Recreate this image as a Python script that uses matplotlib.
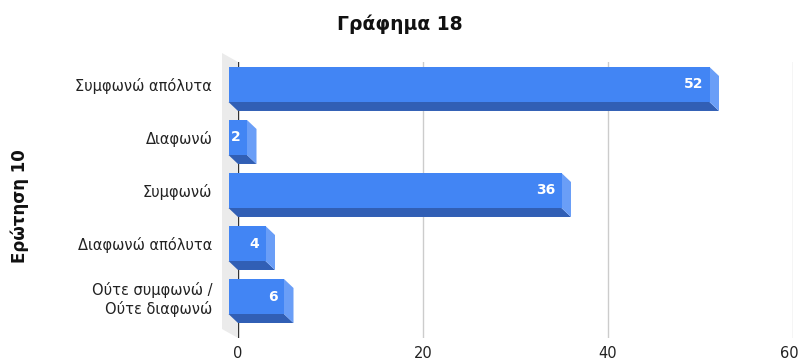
import matplotlib
matplotlib.use("Agg")
import matplotlib.pyplot as plt
from matplotlib.patches import Polygon
from matplotlib.transforms import ScaledTranslation

plt.rcParams['font.family'] = ['DejaVu Sans']

categories = ["Συμφωνώ απόλυτα", "Διαφωνώ", "Συμφωνώ", "Διαφωνώ απόλυτα",
              "Ούτε συμφωνώ /\nΟύτε διαφωνώ"]
values = [52, 2, 36, 4, 6]
x_ticks = [0, 20, 40, 60]
title = "Γράφημα 18"
ylabel = "Ερώτηση 10"

FRONT = "#4285f4"
BOTTOM = "#315fb5"
SIDE = "#6a9ef7"
WALL = "#ebebeb"

W, H, DPI = 800, 361, 100
fig = plt.figure(figsize=(W / DPI, H / DPI), dpi=DPI)

left_px, right_px, top_px, bot_px = 238, 793, 62, 338
ax = fig.add_axes([left_px / W, (H - bot_px) / H,
                   (right_px - left_px) / W, (bot_px - top_px) / H])
ax.set_xlim(0, 60)
ax.set_ylim(4.613, -0.594)
for s in ax.spines.values():
    s.set_visible(False)

ax_w = right_px - left_px
ax_h = bot_px - top_px
pxu = ax_w / 60.0
pxc = ax_h / (4.613 + 0.594)

dx_px, dy_px = 9.5, 9.0
dxd = dx_px / pxu
dyd = dy_px / pxc

wx = -16.0 / ax_w
wy = 9.0 / ax_h
wall = Polygon([(0, 1), (wx, 1 + wy), (wx, wy), (0, 0)], closed=True,
               transform=ax.transAxes, facecolor=WALL, edgecolor='none',
               clip_on=False, zorder=0)
ax.add_patch(wall)

for t in x_ticks[1:]:
    ax.axvline(t, color="#cccccc", lw=1, zorder=1)
ax.axvline(0, color="#333333", lw=1, zorder=1)

h = 0.66
ypos = list(range(len(categories)))
for k, v in zip(ypos, values):
    yb_top = k - h / 2
    yb_bot = k + h / 2
    bottom = Polygon([(-dxd, yb_bot - dyd), (v - dxd, yb_bot - dyd),
                      (v, yb_bot), (0, yb_bot)], closed=True,
                     facecolor=BOTTOM, edgecolor='none', clip_on=False, zorder=2)
    ax.add_patch(bottom)
    side = Polygon([(v - dxd, yb_top - dyd), (v, yb_top), (v, yb_bot),
                    (v - dxd, yb_bot - dyd)], closed=True,
                   facecolor=SIDE, edgecolor='none', clip_on=False, zorder=2)
    ax.add_patch(side)

front_tr = ax.transData + ScaledTranslation(-dx_px / DPI, dy_px / DPI, fig.dpi_scale_trans)
bars = ax.barh(ypos, values, height=h, color=FRONT, zorder=3,
               transform=front_tr, clip_on=False)

label_tr = ax.transData + ScaledTranslation((-dx_px - 6) / DPI, dy_px / DPI, fig.dpi_scale_trans)
for k, v in zip(ypos, values):
    ax.text(v, k, str(v), transform=label_tr, ha='right', va='center',
            color='white', fontsize=10, fontweight='bold', zorder=4, clip_on=False)

ax.set_xticks(x_ticks)
ax.set_xticklabels([str(t) for t in x_ticks])
ax.tick_params(axis='x', length=0, pad=6, labelsize=10.5, labelcolor='#222222')
xlabs = ax.get_xticklabels()
xlabs[-1].set_horizontalalignment('right')
xlabs[-1].set_transform(xlabs[-1].get_transform() + ScaledTranslation(6 / DPI, 0, fig.dpi_scale_trans))
ax.set_yticks(ypos)
ax.set_yticklabels(categories)
ax.tick_params(axis='y', length=0, pad=18.5, labelsize=10.5, labelcolor='#222222')
for lab in ax.get_yticklabels():
    lab.set_transform(lab.get_transform() + ScaledTranslation(0, dy_px / DPI, fig.dpi_scale_trans))
    lab.set_multialignment('right')
    lab.set_linespacing(1.2)

fig.text(400 / W, 1 - 24 / H, title, ha='center', va='center',
         fontsize=13.5, fontweight='bold', color='#111111')
fig.text(20 / W, 1 - 206 / H, ylabel, ha='center', va='center', rotation=90,
         fontsize=12, fontweight='bold', color='#111111')

fig.savefig("out.png", dpi=DPI)
